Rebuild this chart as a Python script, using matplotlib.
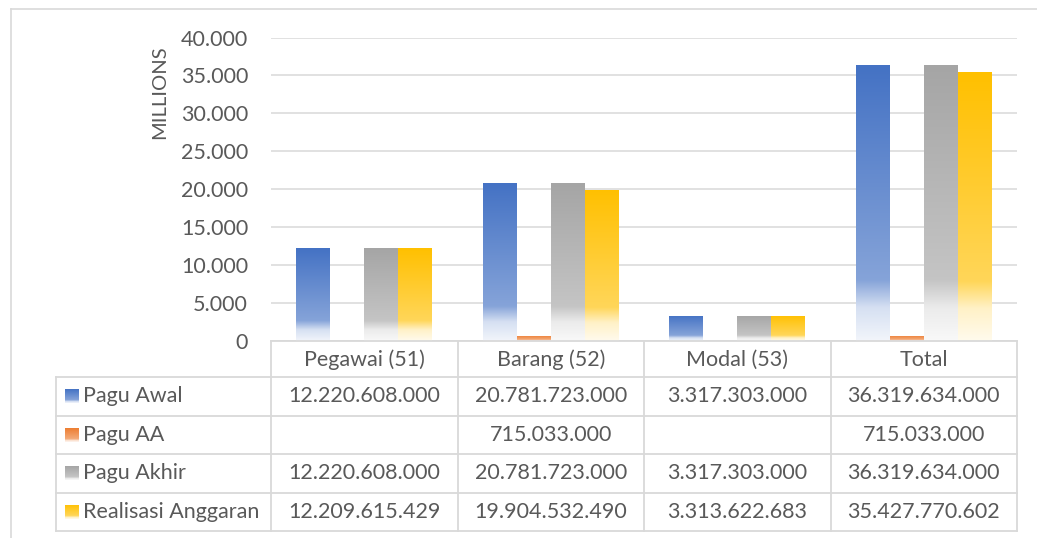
import numpy as np
import matplotlib.pyplot as plt
from matplotlib.colors import to_rgb
from matplotlib.lines import Line2D
from matplotlib.transforms import blended_transform_factory

plt.rcParams['font.family'] = ['Lato', 'DejaVu Sans']

categories = ['Pegawai (51)', 'Barang (52)', 'Modal (53)', 'Total']
series_names = ['Pagu Awal', 'Pagu AA', 'Pagu Akhir', 'Realisasi Anggaran']
pagu_awal = [12220608000, 20781723000, 3317303000, 36319634000]
pagu_aa = [np.nan, 715033000, np.nan, 715033000]
pagu_akhir = [12220608000, 20781723000, 3317303000, 36319634000]
realisasi = [12209615429, 19904532490, 3313622683, 35427770602]
colors = ['#4472C4', '#ED7D31', '#A5A5A5', '#FFC000']
yticks = [0, 5000, 10000, 15000, 20000, 25000, 30000, 35000, 40000]

series = [pagu_awal, pagu_aa, pagu_akhir, realisasi]
TXT = '#595959'
LINE = '#D9D9D9'
W, H = 1037, 538
FS = 15.5


def fmt(v):
    if np.isnan(v):
        return ''
    return f'{v:,.0f}'.replace(',', '.')


def gradient(color, n=256):
    # solid at top, fading to almost white at the bottom
    t = np.linspace(0, 1, n)
    mix = np.interp(t, [0, 0.78, 0.88, 1.0], [0.0, 0.35, 0.78, 0.93])
    c = np.array(to_rgb(color))
    rgb = c[None, :] * (1 - mix[:, None]) + mix[:, None]
    return np.concatenate([rgb, np.ones((n, 1))], axis=1)[:, None, :]


fig = plt.figure(figsize=(W / 100, H / 100), dpi=100)
ax = fig.add_axes([271 / W, 1 - 341 / H, (1017 - 271) / W, (341 - 37.5) / H])

x = np.arange(len(categories))
bw = 0.1823
for j, (vals, col) in enumerate(zip(series, colors)):
    vals_m = np.array(vals, dtype=float) / 1e6
    bars = ax.bar(x + (j - 1.5) * bw, vals_m, bw, facecolor='none',
                  edgecolor='none', zorder=2)
    grad = gradient(col)
    for p in bars.patches:
        h = p.get_height()
        if not np.isfinite(h) or h <= 0:
            continue
        im = ax.imshow(grad, extent=(p.get_x(), p.get_x() + p.get_width(), 0, h),
                       aspect='auto', origin='upper', zorder=2,
                       interpolation='bilinear')
        im.set_clip_path(p)

ax.set_xlim(-0.5, len(categories) - 0.5)
ax.set_ylim(0, 40000)
ax.set_yticks(yticks)
ax.set_yticklabels([fmt(v) for v in yticks])
ax.set_xticks([])
ax.tick_params(axis='y', length=0, pad=16.5, labelsize=FS, labelcolor=TXT)
ax.yaxis.grid(True, color=LINE, lw=1.1)
ax.set_axisbelow(True)
for s in ax.spines.values():
    s.set_visible(False)

fig.text(160 / W, 1 - 92 / H, 'MILLIONS', rotation=90, ha='center',
         va='center', fontsize=14.5, color=TXT)

# data table below the plot
def fy(py):
    return 1 - py / H


tr = blended_transform_factory(ax.transData, fig.transFigure)
row_edges = [341, 377, 415.5, 454, 492.5, 531]
left = 55.7 / W
lw_tab = 1.3

for i in range(len(categories) + 1):
    fig.add_artist(Line2D([i - 0.5, i - 0.5], [fy(341), fy(531)], color=LINE,
                          lw=lw_tab, transform=tr))
fig.add_artist(Line2D([-0.5, len(categories) - 0.5], [fy(341), fy(341)],
                      color=LINE, lw=lw_tab, transform=tr))
for ry in row_edges[1:]:
    fig.add_artist(Line2D([left, 1017 / W], [fy(ry), fy(ry)], color=LINE,
                          lw=lw_tab, transform=fig.transFigure))
fig.add_artist(Line2D([left, left], [fy(377), fy(531)], color=LINE,
                      lw=lw_tab, transform=fig.transFigure))

for i, cat in enumerate(categories):
    fig.text(i, fy(359.5), cat, transform=tr, ha='center', va='center',
             fontsize=FS, color=TXT)

for r, (name, vals, col) in enumerate(zip(series_names, series, colors)):
    yc = (row_edges[r + 1] + row_edges[r + 2]) / 2
    kax = fig.add_axes([65 / W, fy(yc + 7), 14 / W, 14 / H])
    kax.imshow(gradient(col), aspect='auto', extent=(0, 1, 0, 1),
               interpolation='bilinear')
    kax.axis('off')
    fig.text(83 / W, fy(yc), name, ha='left', va='center', fontsize=FS,
             color=TXT)
    for i, v in enumerate(vals):
        fig.text(i, fy(yc), fmt(v), transform=tr, ha='center', va='center',
                 fontsize=FS, color=TXT)

# chart area border
fig.add_artist(Line2D([10.5 / W, 1], [fy(8.5), fy(8.5)], color=LINE, lw=1.2,
                      transform=fig.transFigure))
fig.add_artist(Line2D([10.5 / W, 10.5 / W], [fy(8.5), 0], color=LINE, lw=1.2,
                      transform=fig.transFigure))

fig.savefig('out.png', dpi=100)
